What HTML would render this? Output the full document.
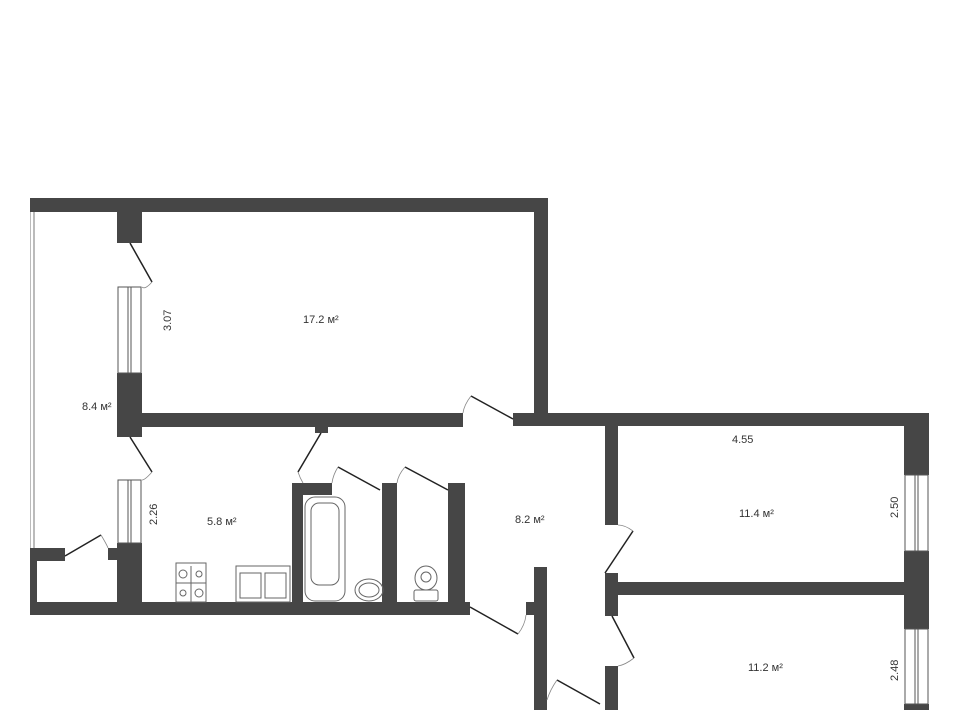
<!DOCTYPE html>
<html><head><meta charset="utf-8"><style>
html,body{margin:0;padding:0;background:#fff;}
svg{display:block}
text{font-family:"Liberation Sans",sans-serif;font-size:11px;fill:#333;}
</style></head><body>
<svg width="960" height="710" viewBox="0 0 960 710" xmlns="http://www.w3.org/2000/svg">
<g fill="#464646">
<!-- top wall -->
<rect x="30" y="198" width="518" height="14"/>
<rect x="534" y="198" width="14" height="228"/>
<!-- left thin window -->
<rect x="30" y="212" width="5" height="336" fill="#bbb"/>
<rect x="31" y="212" width="2" height="336" fill="#fff"/>
<!-- partition pillars -->
<rect x="117" y="212" width="25" height="31"/>
<rect x="117" y="373" width="25" height="64"/>
<rect x="117" y="543" width="25" height="60"/>
<rect x="108" y="548" width="9" height="12"/>
<rect x="30" y="548" width="35" height="13"/>
<rect x="30" y="548" width="7" height="67"/>
<!-- 17.2 bottom wall -->
<rect x="142" y="413" width="321" height="14"/>
<rect x="315" y="427" width="13" height="6"/>
<rect x="513" y="413" width="416" height="13"/>
<!-- bottom wall -->
<rect x="30" y="602" width="440" height="13"/>
<!-- bathroom walls -->
<rect x="292" y="483" width="11" height="120"/>
<rect x="292" y="483" width="40" height="12"/>
<rect x="382" y="483" width="15" height="120"/>
<rect x="448" y="483" width="17" height="120"/>
<!-- right rooms -->
<rect x="605" y="426" width="13" height="99"/>
<rect x="605" y="573" width="13" height="43"/>
<rect x="618" y="582" width="287" height="13"/>
<rect x="904" y="413" width="25" height="62"/>
<rect x="904" y="551" width="25" height="78"/>
<rect x="904" y="704" width="25" height="6"/>
<rect x="534" y="567" width="13" height="143"/>
<rect x="526" y="602" width="8" height="13"/>
<rect x="605" y="666" width="13" height="44"/>
</g>
<!-- windows -->
<g fill="none" stroke="#555" stroke-width="1">
<rect x="118" y="287" width="23" height="86"/>
<line x1="128" y1="287" x2="128" y2="373"/><line x1="131" y1="287" x2="131" y2="373"/>
<rect x="118" y="480" width="23" height="63"/>
<line x1="128" y1="480" x2="128" y2="543"/><line x1="131" y1="480" x2="131" y2="543"/>
<rect x="905" y="475" width="23" height="76"/>
<line x1="915" y1="475" x2="915" y2="551"/><line x1="918" y1="475" x2="918" y2="551"/>
<rect x="905" y="629" width="23" height="75"/>
<line x1="915" y1="629" x2="915" y2="704"/><line x1="918" y1="629" x2="918" y2="704"/>
</g>
<!-- doors -->
<g fill="none" stroke="#222" stroke-width="1.5">
<line x1="130" y1="243" x2="152" y2="282"/>
<line x1="130" y1="437" x2="152" y2="472"/>
<line x1="65" y1="556" x2="101" y2="535"/>
<line x1="321" y1="433" x2="298" y2="472"/>
<line x1="338" y1="467" x2="380" y2="490"/>
<line x1="405" y1="467" x2="448" y2="490"/>
<line x1="471" y1="396" x2="513" y2="419"/>
<line x1="605" y1="573" x2="633" y2="531"/>
<line x1="612" y1="616" x2="634" y2="658"/>
<line x1="470" y1="607" x2="518" y2="634"/>
<line x1="557" y1="680" x2="600" y2="704"/>
</g>
<g fill="none" stroke="#888" stroke-width="0.8">
<path d="M152 282 Q145 290 142 287"/>
<path d="M152 472 Q145 480 142 480"/>
<path d="M101 535 Q107 545 108 548"/>
<path d="M298 472 Q300 478 303 483"/>
<path d="M338 467 Q333 475 332 483"/>
<path d="M405 467 Q398 475 397 483"/>
<path d="M471 396 Q464 405 463 413"/>
<path d="M633 531 Q625 525 618 525"/>
<path d="M634 658 Q625 665 618 666"/>
<path d="M518 634 Q525 625 526 615"/>
<path d="M557 680 Q550 690 547 700"/>
</g>
<!-- fixtures -->
<g fill="none" stroke="#666" stroke-width="1">
<rect x="176" y="563" width="30" height="39"/>
<line x1="191" y1="566" x2="191" y2="602"/><line x1="176" y1="583" x2="206" y2="583"/>
<circle cx="183" cy="574" r="4"/><circle cx="199" cy="574" r="3"/><circle cx="183" cy="593" r="3"/><circle cx="199" cy="593" r="4"/>
<rect x="236" y="566" width="54" height="36"/>
<rect x="240" y="573" width="21" height="25"/><rect x="265" y="573" width="21" height="25"/>
<rect x="305" y="497" width="40" height="104" rx="10"/>
<rect x="311" y="503" width="28" height="82" rx="8"/>
<ellipse cx="369" cy="590" rx="14" ry="11"/>
<ellipse cx="369" cy="590" rx="10" ry="7"/>
<ellipse cx="426" cy="578" rx="11" ry="12"/>
<circle cx="426" cy="577" r="5"/>
<rect x="414" y="590" width="24" height="11" rx="2"/>
</g>
<text x="82" y="410" font-size="12">8.4 м²</text>
<text x="303" y="323" font-size="12">17.2 м²</text>
<text x="207" y="525" font-size="12">5.8 м²</text>
<text x="515" y="523" font-size="12">8.2 м²</text>
<text x="739" y="517" font-size="12">11.4 м²</text>
<text x="748" y="671" font-size="12">11.2 м²</text>
<text x="732" y="443">4.55</text>
<text transform="translate(171,331) rotate(-90)">3.07</text>
<text transform="translate(157,525) rotate(-90)">2.26</text>
<text transform="translate(898,518) rotate(-90)">2.50</text>
<text transform="translate(898,681) rotate(-90)">2.48</text>
</svg>
</body></html>
